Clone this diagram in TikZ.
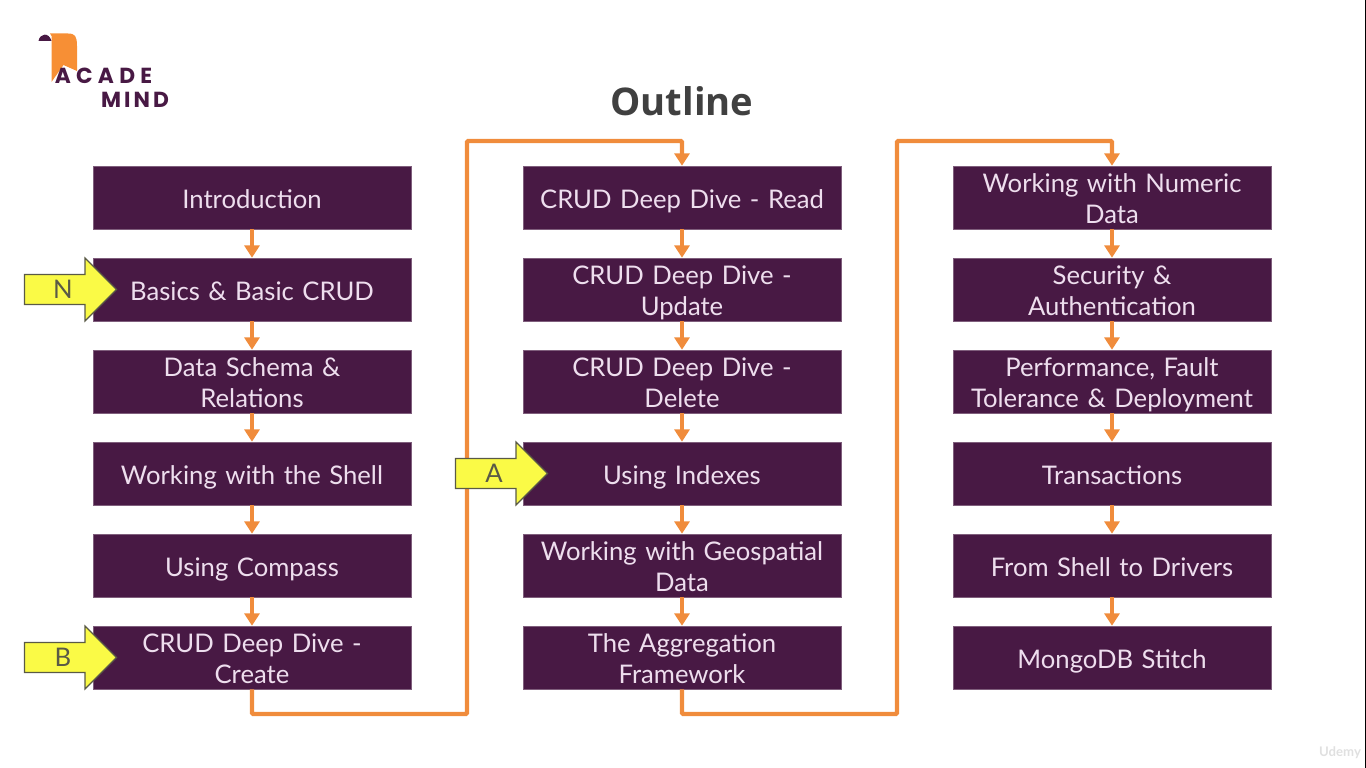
\documentclass[tikz,border=0pt]{standalone}
\usepackage{fontspec}
\setmainfont{Lato}
\newfontfamily\titlefont{Open Sans}
\newfontfamily\logofont[LetterSpace=14]{Poppins}
\newfontfamily\logowide[LetterSpace=24]{Poppins}
\usepackage{xcolor}
\usetikzlibrary{positioning,arrows.meta,shapes.arrows}
\definecolor{boxpurple}{RGB}{72,25,68}
\definecolor{boxtext}{RGB}{238,222,238}
\definecolor{flowline}{RGB}{240,140,60}
\definecolor{banner}{RGB}{247,143,53}
\definecolor{marker}{RGB}{250,250,70}
\definecolor{markerline}{RGB}{90,90,70}
\newcommand{\topictop}{\rule{0pt}{14.8pt}}
\newcommand{\topicbottom}{\rule[-2.7pt]{0pt}{2.7pt}}
\begin{document}
\begin{tikzpicture}[
  every node/.style={font=\fontsize{14.6}{17.6}\selectfont},
  topic/.style={rectangle, fill=boxpurple, draw=boxpurple!70!white, line width=0.3pt, text=boxtext, minimum width=6.36cm, minimum height=1.26cm, text width=6.2cm, align=center, inner sep=0pt, execute at begin node=\topictop, execute at end node=\topicbottom},
  flow/.style={-{Triangle[width=8.5pt,length=7pt]}, line width=2.1pt, color=flowline},
  longflow/.style={-{Triangle[width=8.5pt,length=7pt]}, line width=2.3pt, color=flowline, rounded corners=0.5pt},
  pointer/.style={single arrow, draw=markerline, fill=marker, line width=0.7pt, minimum height=1.84cm, minimum width=1.26cm, single arrow head extend=0.3cm, inner xsep=0pt, inner ysep=0.08cm, text=markerline}
]
  \useasboundingbox (0,0) rectangle (27.32,-15.36);
  \fill[black] (27.29,0) rectangle (27.32,-15.36);

  \node[font=\titlefont\fontsize{21.7}{26}\selectfont\bfseries, text=black!75] (title) at (13.64,-2.02) {Outline};

  % logo
  \fill[banner] (1.03,-0.72) -- (1.03,-1.64) -- (1.27,-1.30) -- (1.54,-1.42) -- (1.54,-0.92) .. controls (1.54,-0.72) and (1.50,-0.67) .. (1.36,-0.67) -- (1.0,-0.67) -- cycle;
  \fill[boxpurple] (0.77,-0.82) .. controls (0.80,-0.66) and (0.98,-0.64) .. (1.03,-0.82) -- cycle;
  \node[font=\logowide\fontsize{12.4}{13}\selectfont\bfseries, text=boxpurple, inner sep=0pt] (acade) at (2.07,-1.52) {ACADE};
  \node[font=\logofont\fontsize{12.4}{13}\selectfont\bfseries, text=boxpurple, inner sep=0pt] (mind) at (2.70,-2.00) {MIND};

  % first column
  \node[topic] (intro) at (5.04,-3.95) {Introduction};
  \node[topic] (basics) at (5.04,-5.79) {Basics \& Basic CRUD};
  \node[topic] (schema) at (5.04,-7.63) {Data Schema \&\\Relations};
  \node[topic] (shell) at (5.04,-9.47) {Working with the Shell};
  \node[topic] (compass) at (5.04,-11.31) {Using Compass};
  \node[topic] (create) at (5.04,-13.15) {CRUD Deep Dive -\\Create};

  % second column
  \node[topic] (read) at (13.64,-3.95) {CRUD Deep Dive - Read};
  \node[topic] (update) at (13.64,-5.79) {CRUD Deep Dive -\\Update};
  \node[topic] (delete) at (13.64,-7.63) {CRUD Deep Dive -\\Delete};
  \node[topic] (indexes) at (13.64,-9.47) {Using Indexes};
  \node[topic] (geo) at (13.64,-11.31) {Working with Geospatial\\Data};
  \node[topic] (aggregation) at (13.64,-13.15) {The Aggregation\\Framework};

  % third column
  \node[topic] (numeric) at (22.24,-3.95) {Working with Numeric\\Data};
  \node[topic] (security) at (22.24,-5.79) {Security \&\\Authentication};
  \node[topic] (performance) at (22.24,-7.63) {Performance, Fault\\Tolerance \& Deployment};
  \node[topic] (transactions) at (22.24,-9.47) {Transactions};
  \node[topic] (drivers) at (22.24,-11.31) {From Shell to Drivers};
  \node[topic] (stitch) at (22.24,-13.15) {MongoDB Stitch};

  \foreach \a/\b in {intro/basics,basics/schema,schema/shell,shell/compass,compass/create,
    read/update,update/delete,delete/indexes,indexes/geo,geo/aggregation,
    numeric/security,security/performance,performance/transactions,transactions/drivers,drivers/stitch}
    \draw[flow] (\a) -- (\b);

  \coordinate (lowa) at (9.34,-14.28);
  \coordinate (topa) at (9.34,-2.82);
  \coordinate (lowb) at (17.94,-14.28);
  \coordinate (topb) at (17.94,-2.82);
  \draw[longflow] (create.south) |- (lowa) -- (topa) -| (read.north);
  \draw[longflow] (aggregation.south) |- (lowb) -- (topb) -| (numeric.north);

  \node[pointer] (markn) at (1.26,-5.79) {N};
  \node[pointer] (markb) at (1.26,-13.15) {B};
  \node[pointer] (marka) at (9.88,-9.47) {A};

  \node[font=\fontsize{7.5}{8}\selectfont\bfseries, text=black!12] (udemy) at (26.8,-15.05) {Udemy};
\end{tikzpicture}
\end{document}
